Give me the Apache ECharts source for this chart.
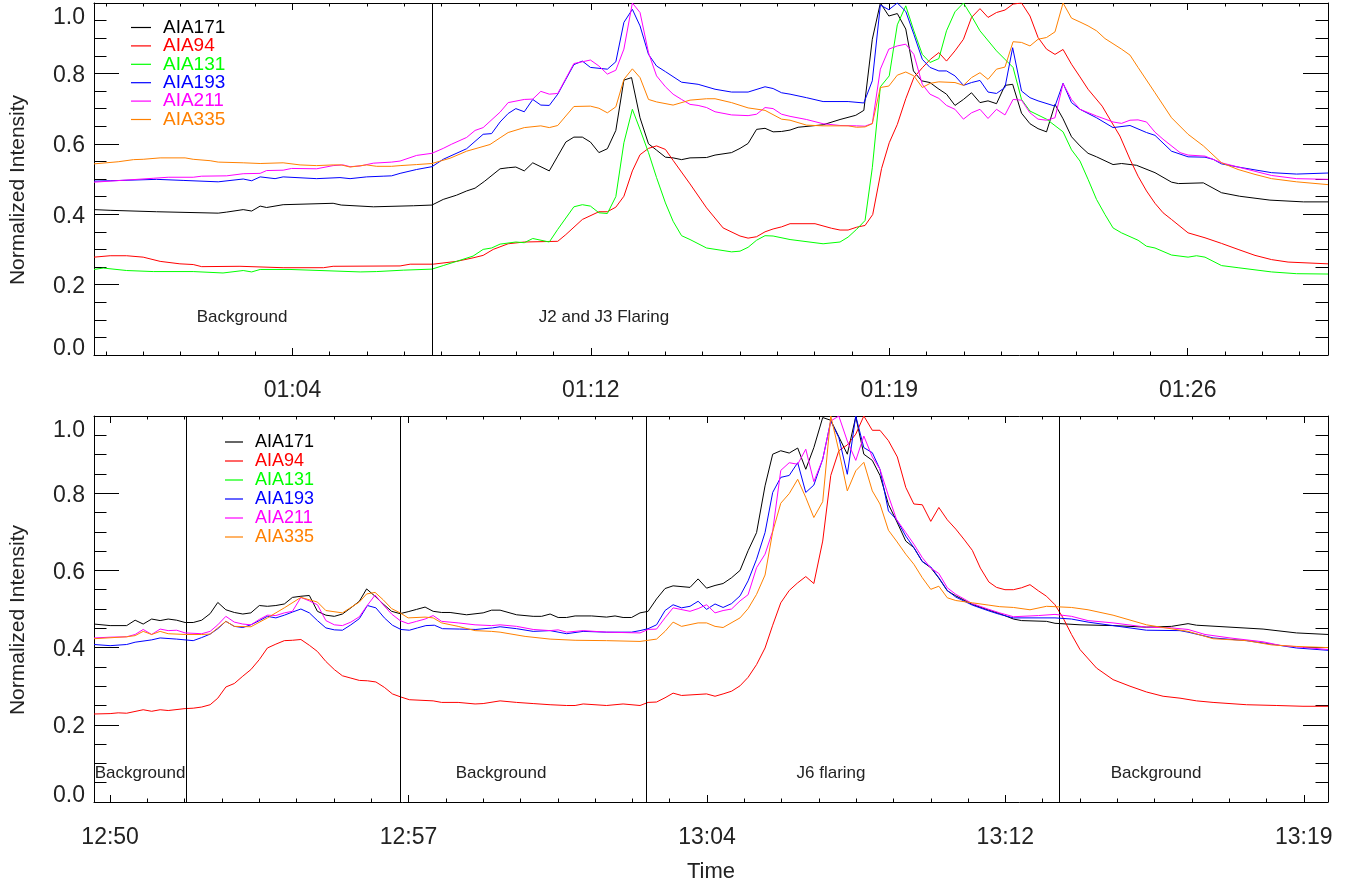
<!DOCTYPE html>
<html><head><meta charset="utf-8">
<script src="https://cdn.jsdelivr.net/npm/echarts@6/dist/echarts.min.js"></script>
<style>html,body{margin:0;padding:0;background:#fff}#c{width:1356px;height:886px}</style>
</head><body><div id="c"></div>
<script>
// ---------- categories / labels ----------
const seriesNames = ['AIA171','AIA94','AIA131','AIA193','AIA211','AIA335'];
const seriesColors = ['#000000','#ff0000','#00ff00','#0000ff','#ff00ff','#ff8000'];
// time axis in minutes of day
const topRange = [59.8, 90.4];
const botRange = [769.6, 800.2];
const topMajorTicks = [64.72, 72.12, 79.52, 86.92];
const topTickLabels = ['01:04','01:12','01:19','01:26'];
const botMajorTicks = [770.0, 777.4, 784.8, 792.2, 799.6];
const botTickLabels = ['12:50','12:57','13:04','13:12','13:19'];
const yTicks = [0, 0.2, 0.4, 0.6, 0.8, 1.0];
const topMarkers = [68.18];
const botMarkers = [771.88, 777.19, 783.29, 793.53];
const topNotes = ['Background','J2 and J3 Flaring'];
const botNotes = ['Background','Background','J6 flaring','Background'];

// ---------- top panel data [time(min), normalized intensity] ----------
const top171 = [[59.8,0.413],[60.2,0.411],[61.35,0.407],[62.88,0.403],[63.09,0.406],[63.5,0.413],[63.71,0.409],[63.92,0.423],[64.08,0.419],[64.49,0.427],[65.73,0.431],[65.93,0.426],[66.73,0.421],[67.72,0.424],[68.18,0.426],[68.46,0.442],[68.79,0.454],[69.04,0.466],[69.25,0.474],[69.49,0.494],[69.87,0.529],[70.07,0.532],[70.26,0.534],[70.47,0.523],[70.68,0.546],[71.09,0.523],[71.3,0.565],[71.5,0.605],[71.7,0.619],[71.91,0.619],[72.11,0.605],[72.32,0.575],[72.53,0.586],[72.74,0.638],[72.94,0.781],[73.13,0.788],[73.34,0.674],[73.55,0.600],[73.75,0.582],[73.97,0.562],[74.16,0.560],[74.37,0.555],[74.58,0.560],[74.99,0.561],[75.2,0.568],[75.61,0.575],[75.82,0.587],[76.02,0.601],[76.23,0.641],[76.44,0.644],[76.64,0.634],[76.85,0.635],[77.06,0.639],[77.26,0.647],[77.88,0.654],[78.3,0.669],[78.69,0.681],[78.89,0.695],[79.1,0.897],[79.3,1.0],[79.51,0.963],[79.72,0.970],[79.93,0.926],[80.12,0.807],[80.32,0.779],[80.53,0.774],[80.73,0.757],[80.94,0.741],[81.15,0.709],[81.36,0.726],[81.56,0.745],[81.77,0.717],[81.97,0.722],[82.18,0.714],[82.39,0.766],[82.58,0.769],[82.8,0.687],[83.01,0.657],[83.21,0.643],[83.42,0.634],[83.63,0.712],[83.83,0.671],[84.04,0.62],[84.25,0.594],[84.45,0.573],[84.66,0.563],[85.07,0.541],[85.28,0.544],[85.65,0.539],[86.11,0.518],[86.52,0.491],[86.69,0.487],[87.31,0.489],[87.76,0.461],[88.21,0.451],[88.96,0.440],[89.79,0.435],[90.4,0.435]];
const top94 = [[59.8,0.278],[60.2,0.282],[60.61,0.282],[61.02,0.278],[61.44,0.266],[61.93,0.259],[62.26,0.257],[62.47,0.251],[63.42,0.252],[64.49,0.248],[65.49,0.248],[65.73,0.252],[67.39,0.253],[67.64,0.258],[68.21,0.258],[68.79,0.266],[69.2,0.276],[69.45,0.283],[69.7,0.300],[70.07,0.316],[70.47,0.321],[71.3,0.323],[71.5,0.342],[71.91,0.385],[72.32,0.407],[72.53,0.407],[72.74,0.420],[72.94,0.451],[73.15,0.523],[73.34,0.569],[73.55,0.587],[73.75,0.594],[73.97,0.584],[74.16,0.553],[74.58,0.486],[74.99,0.418],[75.4,0.361],[75.82,0.338],[76.02,0.332],[76.23,0.336],[76.44,0.350],[76.64,0.358],[76.85,0.364],[77.06,0.373],[77.68,0.373],[78.09,0.360],[78.3,0.355],[78.5,0.355],[78.71,0.363],[78.92,0.368],[79.11,0.399],[79.33,0.530],[79.52,0.603],[79.72,0.655],[79.93,0.728],[80.13,0.788],[80.34,0.816],[80.54,0.840],[80.75,0.859],[80.94,0.835],[81.15,0.864],[81.36,0.897],[81.56,0.959],[81.77,0.984],[81.97,0.959],[82.18,0.973],[82.39,0.980],[82.59,0.997],[82.8,1.0],[83.01,0.963],[83.21,0.902],[83.42,0.869],[83.63,0.854],[83.83,0.868],[84.04,0.826],[84.25,0.79],[84.45,0.755],[84.8,0.707],[84.99,0.670],[85.24,0.622],[85.49,0.556],[85.69,0.508],[85.9,0.466],[86.11,0.431],[86.31,0.404],[86.52,0.385],[86.93,0.347],[87.35,0.333],[87.76,0.317],[88.17,0.300],[88.59,0.283],[89.0,0.271],[89.41,0.264],[90.4,0.259]];
const top131 = [[59.8,0.243],[60.03,0.247],[60.61,0.240],[61.27,0.237],[62.26,0.237],[63.0,0.233],[63.5,0.240],[63.71,0.236],[63.92,0.243],[64.66,0.243],[66.4,0.236],[66.81,0.237],[67.47,0.241],[68.18,0.244],[68.46,0.254],[68.79,0.266],[69.2,0.281],[69.45,0.300],[69.66,0.304],[69.87,0.315],[70.26,0.321],[70.47,0.319],[70.68,0.331],[71.09,0.321],[71.3,0.357],[71.7,0.421],[71.91,0.427],[72.11,0.423],[72.32,0.404],[72.53,0.402],[72.74,0.450],[72.94,0.603],[73.15,0.698],[73.34,0.641],[73.55,0.575],[73.75,0.504],[73.97,0.432],[74.16,0.380],[74.37,0.339],[74.58,0.328],[74.99,0.304],[75.61,0.293],[75.82,0.295],[76.02,0.306],[76.23,0.326],[76.44,0.339],[76.64,0.338],[77.06,0.328],[77.88,0.316],[78.3,0.321],[78.5,0.335],[78.71,0.357],[78.92,0.382],[79.1,0.532],[79.3,0.762],[79.52,0.793],[79.72,0.938],[79.93,0.992],[80.13,0.921],[80.34,0.854],[80.53,0.831],[80.75,0.842],[80.94,0.921],[81.15,0.975],[81.36,1.0],[81.56,0.963],[81.77,0.921],[82.18,0.864],[82.59,0.817],[82.8,0.726],[83.01,0.693],[83.42,0.670],[83.83,0.634],[84.04,0.583],[84.25,0.551],[84.45,0.499],[84.66,0.442],[84.87,0.399],[85.07,0.361],[85.28,0.347],[85.69,0.326],[85.9,0.309],[86.11,0.304],[86.52,0.284],[86.93,0.278],[87.14,0.282],[87.35,0.278],[87.76,0.254],[88.17,0.248],[89.0,0.236],[89.62,0.231],[90.4,0.230]];
const top193 = [[59.8,0.494],[60.2,0.495],[61.35,0.499],[62.01,0.496],[62.88,0.492],[63.5,0.500],[63.71,0.495],[63.92,0.506],[64.29,0.501],[64.49,0.506],[65.32,0.501],[65.9,0.504],[66.15,0.501],[66.56,0.506],[66.97,0.508],[67.18,0.509],[67.39,0.516],[67.8,0.527],[68.18,0.535],[68.46,0.556],[69.04,0.586],[69.45,0.627],[69.66,0.629],[69.87,0.662],[70.07,0.686],[70.26,0.700],[70.47,0.691],[70.68,0.726],[70.88,0.710],[71.09,0.709],[71.3,0.741],[71.5,0.783],[71.7,0.825],[71.91,0.835],[72.11,0.817],[72.53,0.812],[72.74,0.833],[72.94,0.945],[73.15,0.982],[73.34,0.935],[73.55,0.854],[73.75,0.821],[73.97,0.805],[74.37,0.775],[74.78,0.769],[75.2,0.755],[75.61,0.747],[76.02,0.747],[76.44,0.762],[76.64,0.757],[76.85,0.745],[77.06,0.741],[77.47,0.731],[77.88,0.720],[78.5,0.720],[78.89,0.716],[79.1,0.779],[79.3,0.994],[79.51,0.981],[79.72,1.0],[79.93,0.976],[80.13,0.911],[80.34,0.840],[80.53,0.817],[80.75,0.807],[80.94,0.807],[81.15,0.793],[81.36,0.766],[81.56,0.774],[81.77,0.780],[81.97,0.747],[82.18,0.743],[82.39,0.760],[82.58,0.873],[82.8,0.750],[83.01,0.731],[83.21,0.722],[83.63,0.707],[83.83,0.772],[84.04,0.717],[84.25,0.698],[84.66,0.674],[85.07,0.646],[85.49,0.652],[85.9,0.632],[86.11,0.624],[86.52,0.579],[86.93,0.563],[87.35,0.562],[87.55,0.556],[87.76,0.543],[88.17,0.534],[89.0,0.518],[89.62,0.514],[90.4,0.517]];
const top211 = [[59.8,0.491],[60.61,0.497],[61.27,0.502],[61.64,0.505],[62.26,0.505],[62.47,0.508],[63.09,0.509],[63.5,0.515],[63.92,0.516],[64.08,0.524],[64.49,0.525],[64.7,0.530],[65.32,0.529],[65.73,0.538],[65.98,0.540],[66.15,0.535],[66.4,0.537],[66.73,0.545],[67.18,0.548],[67.39,0.551],[67.8,0.567],[68.18,0.573],[68.46,0.587],[68.67,0.599],[69.04,0.618],[69.25,0.638],[69.45,0.646],[69.87,0.690],[70.07,0.717],[70.47,0.726],[70.68,0.727],[70.88,0.749],[71.09,0.741],[71.3,0.743],[71.7,0.828],[71.91,0.833],[72.11,0.838],[72.32,0.821],[72.53,0.798],[72.74,0.809],[72.94,0.869],[73.15,1.0],[73.34,0.973],[73.55,0.859],[73.75,0.793],[73.97,0.762],[74.16,0.741],[74.37,0.726],[74.58,0.712],[74.78,0.709],[74.99,0.703],[75.2,0.691],[75.61,0.682],[76.02,0.680],[76.23,0.684],[76.44,0.703],[76.64,0.700],[76.85,0.684],[77.06,0.678],[77.47,0.669],[77.88,0.657],[78.3,0.652],[78.71,0.651],[78.92,0.650],[79.1,0.658],[79.3,0.812],[79.51,0.869],[79.72,0.878],[79.93,0.883],[80.13,0.854],[80.34,0.769],[80.53,0.741],[80.75,0.729],[80.94,0.709],[81.15,0.698],[81.36,0.670],[81.56,0.688],[81.77,0.698],[81.97,0.672],[82.18,0.698],[82.39,0.682],[82.59,0.726],[82.8,0.724],[83.01,0.688],[83.21,0.670],[83.42,0.667],[83.63,0.674],[83.83,0.771],[84.04,0.726],[84.25,0.698],[84.66,0.679],[85.07,0.662],[85.28,0.658],[85.49,0.667],[85.69,0.668],[85.9,0.662],[86.11,0.633],[86.31,0.613],[86.73,0.575],[86.93,0.568],[87.35,0.565],[87.76,0.546],[88.17,0.534],[89.0,0.510],[89.62,0.501],[90.4,0.499]];
const top335 = [[59.8,0.543],[60.4,0.549],[60.78,0.555],[61.02,0.556],[61.44,0.560],[62.06,0.560],[62.26,0.556],[62.68,0.552],[62.88,0.548],[63.5,0.546],[63.92,0.544],[64.49,0.546],[64.91,0.540],[65.32,0.538],[65.73,0.540],[65.93,0.540],[66.15,0.534],[66.56,0.540],[66.81,0.536],[67.18,0.536],[67.39,0.538],[67.8,0.541],[68.18,0.544],[68.63,0.559],[69.04,0.579],[69.62,0.598],[69.87,0.617],[70.07,0.632],[70.47,0.646],[70.88,0.651],[71.09,0.646],[71.3,0.652],[71.7,0.706],[72.11,0.707],[72.32,0.701],[72.53,0.688],[72.74,0.705],[72.94,0.783],[73.15,0.813],[73.34,0.788],[73.55,0.726],[73.75,0.719],[74.16,0.710],[74.58,0.724],[74.99,0.728],[75.2,0.728],[75.61,0.717],[76.02,0.702],[76.44,0.695],[76.85,0.670],[77.06,0.667],[77.47,0.653],[77.88,0.651],[78.5,0.651],[78.71,0.647],[78.92,0.648],[79.1,0.657],[79.3,0.760],[79.51,0.764],[79.72,0.795],[79.93,0.804],[80.13,0.793],[80.34,0.760],[80.54,0.772],[80.75,0.776],[81.15,0.774],[81.36,0.766],[81.56,0.788],[81.77,0.802],[81.97,0.783],[82.18,0.812],[82.39,0.818],[82.59,0.890],[82.8,0.888],[83.01,0.878],[83.21,0.897],[83.42,0.902],[83.63,0.918],[83.83,1.0],[84.04,0.957],[84.25,0.946],[84.45,0.935],[84.66,0.921],[84.87,0.899],[85.28,0.869],[85.49,0.852],[85.69,0.817],[86.11,0.745],[86.52,0.674],[86.93,0.627],[87.31,0.594],[87.76,0.546],[88.17,0.527],[88.59,0.513],[89.0,0.501],[89.62,0.492],[90.4,0.484]];

// ---------- bottom panel data ----------
const bot171 = [[769.6,0.461],[770.0,0.457],[770.41,0.457],[770.62,0.471],[770.82,0.461],[771.03,0.474],[771.24,0.470],[771.44,0.474],[771.65,0.471],[771.86,0.465],[772.06,0.465],[772.27,0.471],[772.48,0.488],[772.67,0.517],[772.87,0.498],[773.08,0.491],[773.29,0.487],[773.49,0.490],[773.7,0.509],[773.9,0.507],[774.11,0.509],[774.32,0.513],[774.52,0.530],[774.73,0.533],[774.94,0.535],[775.14,0.494],[775.35,0.484],[775.56,0.481],[775.76,0.487],[775.97,0.503],[776.18,0.520],[776.36,0.552],[776.57,0.533],[776.77,0.513],[776.98,0.494],[777.19,0.488],[777.39,0.493],[777.6,0.499],[777.81,0.505],[778.01,0.494],[778.22,0.491],[778.43,0.491],[778.84,0.485],[779.25,0.490],[779.46,0.497],[779.67,0.497],[780.08,0.485],[780.49,0.481],[780.7,0.481],[780.91,0.487],[781.11,0.478],[781.32,0.478],[781.53,0.482],[781.94,0.482],[782.31,0.479],[782.52,0.482],[782.72,0.478],[782.93,0.478],[783.14,0.490],[783.34,0.494],[783.55,0.526],[783.76,0.553],[783.96,0.560],[784.38,0.556],[784.58,0.578],[784.79,0.554],[785.0,0.561],[785.2,0.566],[785.41,0.581],[785.62,0.600],[785.82,0.651],[786.03,0.698],[786.24,0.819],[786.43,0.901],[786.63,0.910],[786.84,0.904],[787.05,0.917],[787.25,0.862],[787.45,0.918],[787.67,0.996],[787.87,0.989],[788.07,0.946],[788.28,0.901],[788.49,0.998],[788.69,0.901],[788.9,0.885],[789.09,0.846],[789.3,0.771],[789.5,0.728],[789.73,0.676],[789.93,0.659],[790.14,0.623],[790.35,0.607],[790.55,0.580],[790.76,0.547],[790.97,0.534],[791.38,0.512],[791.79,0.497],[792.06,0.488],[792.4,0.474],[792.6,0.470],[793.22,0.468],[793.43,0.463],[794.05,0.459],[794.87,0.457],[795.7,0.453],[796.32,0.455],[796.73,0.462],[796.94,0.458],[797.77,0.453],[798.59,0.448],[799.42,0.438],[800.2,0.434]];
const bot94 = [[769.6,0.228],[770.0,0.229],[770.2,0.231],[770.41,0.230],[770.82,0.239],[771.03,0.235],[771.24,0.239],[771.44,0.237],[771.86,0.242],[772.06,0.243],[772.27,0.246],[772.48,0.252],[772.67,0.269],[772.87,0.298],[773.08,0.307],[773.29,0.326],[773.49,0.343],[773.7,0.369],[773.9,0.399],[774.11,0.409],[774.32,0.418],[774.52,0.419],[774.73,0.421],[774.94,0.406],[775.14,0.390],[775.35,0.364],[775.56,0.343],[775.76,0.327],[775.97,0.321],[776.18,0.315],[776.38,0.314],[776.59,0.311],[776.8,0.297],[777.0,0.280],[777.21,0.272],[777.42,0.265],[778.01,0.262],[778.22,0.258],[778.63,0.258],[779.05,0.254],[779.25,0.255],[779.67,0.262],[780.08,0.258],[780.49,0.255],[780.91,0.252],[781.32,0.250],[781.53,0.250],[781.73,0.254],[782.31,0.250],[782.72,0.254],[783.14,0.250],[783.34,0.258],[783.55,0.259],[783.76,0.270],[783.96,0.282],[784.17,0.276],[784.79,0.280],[785.0,0.274],[785.2,0.280],[785.41,0.287],[785.62,0.301],[785.82,0.323],[786.03,0.356],[786.24,0.399],[786.43,0.458],[786.63,0.516],[786.84,0.548],[787.04,0.567],[787.25,0.584],[787.45,0.566],[787.67,0.676],[787.87,0.846],[788.07,0.910],[788.28,0.925],[788.49,0.953],[788.69,1.0],[788.9,0.963],[789.09,0.963],[789.3,0.936],[789.52,0.894],[789.73,0.815],[789.93,0.772],[790.14,0.770],[790.35,0.727],[790.55,0.763],[790.76,0.731],[790.97,0.707],[791.17,0.681],[791.38,0.652],[791.58,0.606],[791.79,0.570],[791.98,0.556],[792.19,0.550],[792.4,0.550],[792.6,0.555],[792.81,0.563],[793.02,0.547],[793.22,0.533],[793.43,0.511],[793.63,0.477],[793.84,0.434],[794.05,0.395],[794.46,0.347],[794.87,0.317],[795.29,0.300],[795.7,0.285],[796.11,0.274],[796.53,0.269],[796.94,0.262],[797.35,0.258],[798.18,0.252],[798.93,0.250],[799.58,0.248],[800.2,0.248]];
const bot131 = [];
const bot193 = [[769.6,0.408],[770.0,0.405],[770.41,0.408],[770.62,0.414],[771.03,0.420],[771.24,0.425],[771.65,0.422],[772.06,0.418],[772.27,0.426],[772.48,0.435],[772.67,0.449],[772.87,0.468],[773.08,0.455],[773.29,0.452],[773.49,0.459],[773.7,0.470],[773.9,0.481],[774.11,0.477],[774.32,0.484],[774.52,0.492],[774.73,0.500],[774.94,0.490],[775.14,0.470],[775.35,0.451],[775.56,0.446],[775.76,0.445],[775.97,0.459],[776.18,0.475],[776.38,0.509],[776.59,0.503],[776.8,0.477],[777.0,0.458],[777.21,0.447],[777.42,0.445],[777.62,0.451],[777.83,0.457],[778.04,0.458],[778.24,0.449],[778.66,0.448],[779.07,0.447],[779.48,0.451],[779.67,0.454],[780.08,0.449],[780.49,0.442],[780.91,0.444],[781.32,0.436],[781.73,0.442],[782.31,0.440],[782.93,0.440],[783.14,0.444],[783.34,0.449],[783.55,0.459],[783.76,0.496],[783.96,0.511],[784.17,0.503],[784.38,0.507],[784.58,0.520],[784.79,0.499],[785.0,0.513],[785.2,0.504],[785.41,0.514],[785.62,0.534],[785.82,0.573],[786.03,0.629],[786.24,0.698],[786.43,0.802],[786.63,0.841],[786.84,0.846],[787.05,0.879],[787.25,0.802],[787.45,0.821],[787.67,0.888],[787.87,0.987],[788.07,0.944],[788.28,0.849],[788.49,1.0],[788.69,0.918],[788.9,0.905],[789.09,0.862],[789.3,0.754],[789.5,0.732],[789.73,0.689],[789.93,0.659],[790.14,0.623],[790.35,0.609],[790.55,0.581],[790.76,0.548],[790.97,0.531],[791.38,0.510],[791.79,0.495],[792.06,0.486],[792.4,0.477],[792.81,0.477],[793.43,0.477],[793.84,0.474],[794.25,0.466],[794.87,0.457],[795.7,0.445],[796.53,0.444],[796.73,0.440],[797.35,0.425],[798.18,0.418],[798.8,0.409],[799.42,0.399],[800.2,0.393]];
const bot211 = [[769.6,0.425],[770.0,0.427],[770.41,0.428],[770.62,0.434],[770.82,0.447],[771.03,0.434],[771.24,0.448],[771.44,0.444],[771.65,0.445],[771.86,0.438],[772.27,0.436],[772.48,0.442],[772.67,0.459],[772.87,0.481],[773.08,0.466],[773.29,0.461],[773.49,0.459],[773.7,0.473],[773.9,0.484],[774.11,0.483],[774.32,0.490],[774.52,0.494],[774.73,0.530],[774.94,0.521],[775.14,0.511],[775.35,0.470],[775.56,0.459],[775.76,0.457],[775.97,0.466],[776.18,0.480],[776.36,0.507],[776.57,0.536],[776.77,0.511],[776.98,0.487],[777.19,0.470],[777.39,0.462],[777.6,0.468],[777.81,0.474],[778.01,0.483],[778.22,0.468],[778.63,0.464],[779.05,0.459],[779.46,0.457],[779.67,0.459],[780.08,0.455],[780.49,0.447],[780.91,0.444],[781.11,0.446],[781.32,0.440],[781.73,0.444],[782.31,0.440],[783.14,0.438],[783.34,0.447],[783.55,0.448],[783.76,0.477],[783.96,0.503],[784.38,0.494],[784.58,0.501],[784.79,0.511],[785.0,0.490],[785.2,0.496],[785.41,0.500],[785.62,0.521],[785.82,0.537],[786.03,0.607],[786.24,0.642],[786.43,0.702],[786.63,0.859],[786.84,0.879],[787.05,0.875],[787.25,0.914],[787.45,0.830],[787.67,0.888],[787.87,0.987],[788.07,1.0],[788.28,0.935],[788.49,0.885],[788.69,0.948],[788.9,0.894],[789.09,0.862],[789.3,0.793],[789.5,0.732],[789.73,0.698],[789.93,0.668],[790.14,0.633],[790.35,0.606],[790.55,0.592],[790.76,0.555],[790.97,0.538],[791.38,0.514],[791.79,0.499],[792.06,0.490],[792.4,0.480],[793.02,0.483],[793.43,0.486],[793.84,0.481],[794.25,0.470],[794.87,0.464],[795.7,0.453],[796.32,0.451],[796.73,0.447],[797.15,0.434],[797.77,0.425],[798.59,0.415],[799.0,0.406],[800.2,0.395]];
const bot335 = [[769.6,0.423],[770.41,0.428],[770.62,0.431],[770.82,0.442],[771.03,0.434],[771.24,0.442],[771.44,0.436],[771.86,0.434],[772.27,0.434],[772.48,0.435],[772.67,0.451],[772.87,0.468],[773.08,0.455],[773.49,0.454],[773.9,0.477],[774.32,0.503],[774.73,0.530],[775.14,0.518],[775.35,0.496],[775.76,0.490],[775.97,0.504],[776.18,0.518],[776.36,0.539],[776.57,0.543],[776.77,0.524],[776.98,0.501],[777.19,0.490],[777.39,0.477],[777.81,0.479],[778.01,0.477],[778.22,0.464],[778.63,0.455],[779.05,0.444],[779.46,0.442],[779.67,0.440],[780.29,0.429],[780.91,0.422],[781.53,0.419],[782.31,0.418],[783.14,0.416],[783.55,0.422],[783.76,0.442],[783.96,0.466],[784.17,0.455],[784.58,0.464],[784.79,0.464],[785.0,0.455],[785.2,0.452],[785.62,0.477],[785.82,0.501],[786.03,0.538],[786.24,0.588],[786.43,0.700],[786.63,0.774],[786.84,0.799],[787.05,0.836],[787.25,0.789],[787.45,0.737],[787.67,0.778],[787.87,1.0],[788.07,0.910],[788.28,0.806],[788.49,0.858],[788.69,0.880],[788.9,0.806],[789.09,0.772],[789.3,0.704],[789.5,0.676],[789.73,0.642],[789.93,0.616],[790.14,0.581],[790.35,0.551],[790.55,0.559],[790.76,0.529],[790.97,0.522],[791.38,0.516],[791.79,0.510],[792.06,0.506],[792.4,0.504],[792.81,0.498],[793.22,0.507],[793.84,0.504],[794.25,0.498],[794.87,0.484],[795.7,0.459],[796.11,0.452],[796.73,0.442],[797.35,0.423],[798.18,0.418],[798.8,0.407],[799.42,0.403],[800.2,0.400]];

const topData = [top171, top94, top131, top193, top211, top335];
const botData = [bot171, bot94, bot131, bot193, bot211, bot335];

// ---------- build chart ----------
const FONT = "'Liberation Sans', Arial, Helvetica, sans-serif";
const TXT = '#222';
const chart = echarts.init(document.getElementById('c'), null, {renderer: 'canvas'});

function minorTicks(majors, range) {
  const step = (majors[1] - majors[0]) / 8;
  const out = [];
  for (let v = majors[0]; v > range[0]; v -= step) out.push(+v.toFixed(4));
  for (let v = majors[0] + step; v < range[1]; v += step) out.push(+v.toFixed(4));
  return out.sort((a, b) => a - b);
}
function nearestLabel(v, majors, labels) {
  let bi = 0;
  majors.forEach((m, i) => { if (Math.abs(m - v) < Math.abs(majors[bi] - v)) bi = i; });
  return labels[bi];
}
function xAxesFor(g, range, majors, labels) {
  const minors = minorTicks(majors, range);
  const base = {gridIndex: g, type: 'value', min: range[0], max: range[1], splitLine: {show: false}, silent: true};
  const line = {show: true, onZero: false, lineStyle: {color: '#000', width: 1}};
  return [
    Object.assign({}, base, {position: 'bottom', axisLine: line,
      axisTick: {show: true, inside: true, length: 7, customValues: majors, lineStyle: {color: '#000'}},
      axisLabel: {show: true, customValues: majors, margin: 24, fontSize: 23, color: TXT, fontFamily: FONT,
        formatter: v => nearestLabel(v, majors, labels)}}),
    Object.assign({}, base, {position: 'bottom', axisLine: {show: false, onZero: false},
      axisTick: {show: true, inside: true, length: 3.5, customValues: minors, lineStyle: {color: '#000'}},
      axisLabel: {show: false}}),
    Object.assign({}, base, {position: 'top', axisLine: line,
      axisTick: {show: true, inside: true, length: 7, customValues: majors, lineStyle: {color: '#000'}},
      axisLabel: {show: false}}),
    Object.assign({}, base, {position: 'top', axisLine: {show: false, onZero: false},
      axisTick: {show: true, inside: true, length: 3.5, customValues: minors, lineStyle: {color: '#000'}},
      axisLabel: {show: false}})
  ];
}
function yAxesFor(g) {
  const common = {gridIndex: g, type: 'value', min: yTicks[0], max: yTicks[yTicks.length - 1], interval: yTicks[1] - yTicks[0],
    axisLine: {show: true, onZero: false, lineStyle: {color: '#000', width: 1}},
    axisTick: {show: true, inside: true, length: 25, lineStyle: {color: '#000'}},
    minorTick: {show: true, splitNumber: 4, length: 12.5, lineStyle: {color: '#000'}},
    splitLine: {show: false}, minorSplitLine: {show: false}, silent: true};
  const lab = {fontSize: 23, color: TXT, fontFamily: FONT};
  return [
    Object.assign({}, common, {position: 'left',
      axisLabel: {show: true, margin: 9, fontSize: 23, color: TXT, fontFamily: FONT,
        formatter: v => Math.abs(v) < 1e-9 ? '{lo|0.0}' : (Math.abs(v - 1) < 1e-9 ? '{hi|1.0}' : '{n|' + v.toFixed(1) + '}'),
        rich: {lo: Object.assign({padding: [0, 0, 12, 0]}, lab), hi: Object.assign({padding: [30, 0, 0, 0]}, lab),
               n: Object.assign({padding: [4, 0, 0, 0]}, lab)}}}),
    Object.assign({}, common, {position: 'right', axisLabel: {show: false}})
  ];
}
function seriesFor(g, dataSets, markers) {
  return dataSets.map((d, i) => {
    const s = {
      name: seriesNames[i], type: 'line', xAxisIndex: g * 4, yAxisIndex: g * 2,
      data: d, showSymbol: false, symbol: 'none', animation: false,
      lineStyle: {color: seriesColors[i], width: 1}, itemStyle: {color: seriesColors[i]},
      z: 2 + i, clip: true
    };
    if (i === 0) {
      s.markLine = {silent: true, symbol: ['none', 'none'], animation: false,
        label: {show: false}, lineStyle: {color: '#000', type: 'solid', width: 1},
        data: markers.map(v => ({xAxis: v}))};
    }
    return s;
  });
}
function legendFor(left, top, iw, fs, gap, pad) {
  return {orient: 'vertical', left: left, top: top, icon: 'rect', itemWidth: iw, itemHeight: 1.2, itemGap: gap,
    selectedMode: false,
    textStyle: {fontSize: fs, fontFamily: FONT, padding: [0, 0, 0, pad]},
    data: seriesNames.map((n, i) => ({name: n, itemStyle: {color: seriesColors[i]},
      lineStyle: {color: seriesColors[i]}, textStyle: {color: seriesColors[i]}}))};
}
function note(text, x, y, fs) {
  return {type: 'text', x: x, y: y, silent: true,
    style: {text: text, font: fs + 'px ' + FONT, fill: TXT, align: 'center', verticalAlign: 'middle'}};
}

const option = {
  backgroundColor: '#fff',
  animation: false,
  grid: [
    {left: 94, top: 3, width: 1234, height: 352, containLabel: false},
    {left: 94, top: 416, width: 1234, height: 386, containLabel: false}
  ],
  xAxis: xAxesFor(0, topRange, topMajorTicks, topTickLabels).concat(xAxesFor(1, botRange, botMajorTicks, botTickLabels)),
  yAxis: yAxesFor(0).concat(yAxesFor(1)),
  legend: [legendFor(126, 13, 20, 19, -0.6, 7), legendFor(220, 428, 18, 18, 1, 7)],
  series: seriesFor(0, topData, topMarkers).concat(seriesFor(1, botData, botMarkers)),
  graphic: [
    note(topNotes[0], 242, 317, 17), note(topNotes[1], 604, 317, 17),
    note(botNotes[0], 140, 773, 17), note(botNotes[1], 501, 773, 17),
    note(botNotes[2], 831, 773, 17), note(botNotes[3], 1156, 773, 17),
    note('Time', 711, 872, 22),
    {type: 'text', x: 18, y: 190, rotation: Math.PI / 2, silent: true,
      style: {text: 'Normalized Intensity', font: '21px ' + FONT, fill: TXT, align: 'center', verticalAlign: 'middle'}},
    {type: 'text', x: 18, y: 620, rotation: Math.PI / 2, silent: true,
      style: {text: 'Normalized Intensity', font: '21px ' + FONT, fill: TXT, align: 'center', verticalAlign: 'middle'}}
  ]
};
chart.setOption(option);
</script></body></html>
